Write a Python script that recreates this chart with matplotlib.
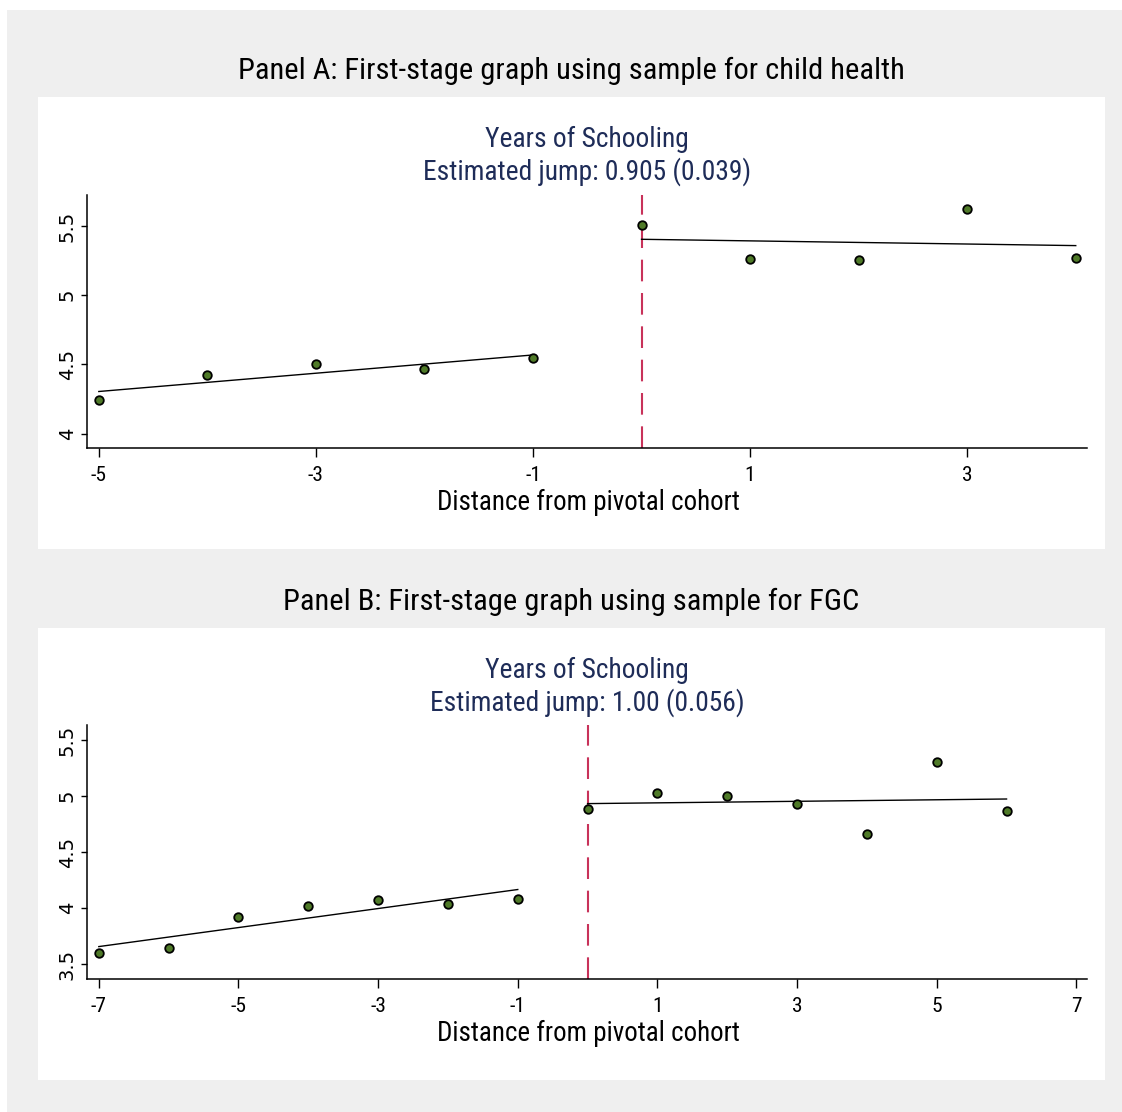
import numpy as np
import matplotlib
matplotlib.use("Agg")
import matplotlib.pyplot as plt
from matplotlib.patches import Rectangle
from matplotlib import font_manager
from matplotlib.textpath import TextPath

# ---------------- data ----------------
a_x_left = [-5, -4, -3, -2, -1]
a_y_left = [4.243, 4.421, 4.500, 4.469, 4.549]
a_x_right = [0, 1, 2, 3, 4]
a_y_right = [5.505, 5.259, 5.254, 5.621, 5.267]

b_x_left = [-7, -6, -5, -4, -3, -2, -1]
b_y_left = [3.604, 3.649, 3.920, 4.018, 4.071, 4.038, 4.086]
b_x_right = [0, 1, 2, 3, 4, 5, 6]
b_y_right = [4.882, 5.025, 4.998, 4.930, 4.662, 5.307, 4.870]

a_xticks = [-5, -3, -1, 1, 3]
a_yticks = [4, 4.5, 5, 5.5]
a_yticklabels = ["4", "4.5", "5", "5.5"]
b_xticks = [-7, -5, -3, -1, 1, 3, 5, 7]
b_yticks = [3.5, 4, 4.5, 5, 5.5]
b_yticklabels = ["3.5", "4", "4.5", "5", "5.5"]

panel_titles = ["Panel A: First-stage graph using sample for child health",
                "Panel B: First-stage graph using sample for FGC"]
subtitles = [["Years of Schooling", "Estimated jump: 0.905 (0.039)"],
             ["Years of Schooling", "Estimated jump: 1.00 (0.056)"]]
xlabel = "Distance from pivotal cohort"

# ---------------- fonts: pick the installed sans whose proportions match ----------------
ALLOWED = ["Liberation Sans", "DejaVu Sans", "Noto Sans", "Roboto", "Open Sans", "Lato", "Inter"]
SUFFIX = ["", " Narrow", " Condensed", " SemiCondensed", " ExtraCondensed", " Semi Condensed",
          " Extra Condensed"]
cands = []
for f in font_manager.fontManager.ttflist:
    ok_name = any(f.name == a + s for a in ALLOWED for s in SUFFIX)
    fn = f.fname.lower()
    if not ok_name or f.style != "normal":
        continue
    if f.weight not in (400, "normal", "regular", "book"):
        continue
    if any(k in fn for k in ("bold", "italic", "light", "thin", "medium", "black", "semibold", "oblique")):
        continue
    cands.append(f.fname)


def measure(fname, s):
    fp = font_manager.FontProperties(fname=fname, size=100)
    ext = TextPath((0, 0), s, size=100, prop=fp).get_extents()
    return ext.width, ext.height


TARGET_RATIO = 657.0 / 25.0
best, best_err = None, 1e9
for fnm in sorted(set(cands)):
    try:
        w, _ = measure(fnm, panel_titles[0])
        _, ch = measure(fnm, "H")
    except Exception:
        continue
    err = abs(w / ch - TARGET_RATIO)
    if err < best_err:
        best, best_err = fnm, err

if best is None:
    NFP = lambda size: font_manager.FontProperties(family=["Liberation Sans", "DejaVu Sans"], size=size)
    size_for_width = lambda s, px: 20
    size_for_cap = lambda px: 14
else:
    NFP = lambda size: font_manager.FontProperties(fname=best, size=size)

    def size_for_width(s, px):
        w, _ = measure(best, s)       # width in points at size 100
        return px * 72.0 / w

    def size_for_cap(px):
        _, ch = measure(best, "5")
        return px * 72.0 / ch

plt.rcParams['font.family'] = ["DejaVu Sans"]

# ---------------- style ----------------
W, H = 1122, 1112
GRAY = "#efefef"
NAVY = "#1e2c58"
GREEN = "#4f7a28"
RED = "#c8325a"

fig = plt.figure(figsize=(W / 100, H / 100), dpi=100, facecolor="white")


def fx(x):
    return x / W


def fy(y):
    return 1 - y / H


fig.patches.append(Rectangle((fx(7), 0), 1 - fx(7), 1 - 10 / H,
                             transform=fig.transFigure, facecolor=GRAY, edgecolor="none", zorder=-10))
for top in (97, 628):
    fig.patches.append(Rectangle((fx(38), fy(top + 452)), fx(1105 - 38), 452 / H,
                                 transform=fig.transFigure, facecolor="white", edgecolor="none", zorder=-9))

title_size = size_for_width(panel_titles[0], 660)
sub_size = size_for_width(subtitles[0][1], 325)
xlab_size = size_for_width(xlabel, 300)
tick_size = size_for_cap(15.5)

panels = [
    dict(xl=a_x_left, yl=a_y_left, xr=a_x_right, yr=a_y_right, xticks=a_xticks,
         yticks=a_yticks, ytl=a_yticklabels, xlim=(-5.106, 4.099), ylim=(3.894, 5.724),
         ax_top=195, ax_bot=448.3, off=0),
    dict(xl=b_x_left, yl=b_y_left, xr=b_x_right, yr=b_y_right, xticks=b_xticks,
         yticks=b_yticks, ytl=b_yticklabels, xlim=(-7.165, 7.145), ylim=(3.366, 5.634),
         ax_top=725, ax_bot=979.3, off=531),
]

for i, p in enumerate(panels):
    left, right = 87.3, 1086.5
    ax = fig.add_axes([fx(left), fy(p["ax_bot"]), fx(right - left), (p["ax_bot"] - p["ax_top"]) / H])
    ax.set_facecolor("none")
    for s in ("top", "right"):
        ax.spines[s].set_visible(False)
    for s in ("left", "bottom"):
        ax.spines[s].set_linewidth(1.1)
        ax.spines[s].set_color("black")

    for xs, ys in ((p["xl"], p["yl"]), (p["xr"], p["yr"])):
        coef = np.polyfit(xs, ys, 1)
        xe = np.array([min(xs), max(xs)])
        ax.plot(xe, np.polyval(coef, xe), color="black", lw=1.0, zorder=2)
        ax.scatter(xs, ys, s=38, facecolor=GREEN, edgecolor="black", linewidths=1.3, zorder=3)

    ax.axvline(0, color=RED, lw=1.5, dashes=(10.4, 5.6), zorder=1)

    ax.set_xlim(*p["xlim"])
    ax.set_ylim(*p["ylim"])
    ax.set_xticks(p["xticks"])
    ax.set_xticklabels([str(t) for t in p["xticks"]])
    for lab in ax.get_xticklabels():
        lab.set_fontproperties(NFP(tick_size))
    ax.set_yticks(p["yticks"])
    ax.set_yticklabels(p["ytl"], rotation=90, va="center", fontsize=14, family="DejaVu Sans")
    ax.tick_params(axis="x", direction="out", length=6.5, width=1.0, color="black", pad=6.5)
    ax.tick_params(axis="y", direction="out", length=4.5, width=1.0, color="black", pad=3)

    off = p["off"]
    fig.text(fx(571.5), fy(71 + off), panel_titles[i], ha="center", va="center",
             fontproperties=NFP(title_size), color="black")
    fig.text(fx(587), fy(139 + off), subtitles[i][0], ha="center", va="center",
             fontproperties=NFP(sub_size), color=NAVY)
    fig.text(fx(587), fy(172 + off), subtitles[i][1], ha="center", va="center",
             fontproperties=NFP(sub_size), color=NAVY)
    fig.text(fx(588), fy(502 + off), xlabel, ha="center", va="center",
             fontproperties=NFP(xlab_size), color="black")

fig.savefig("out.png", dpi=100, facecolor="white")
